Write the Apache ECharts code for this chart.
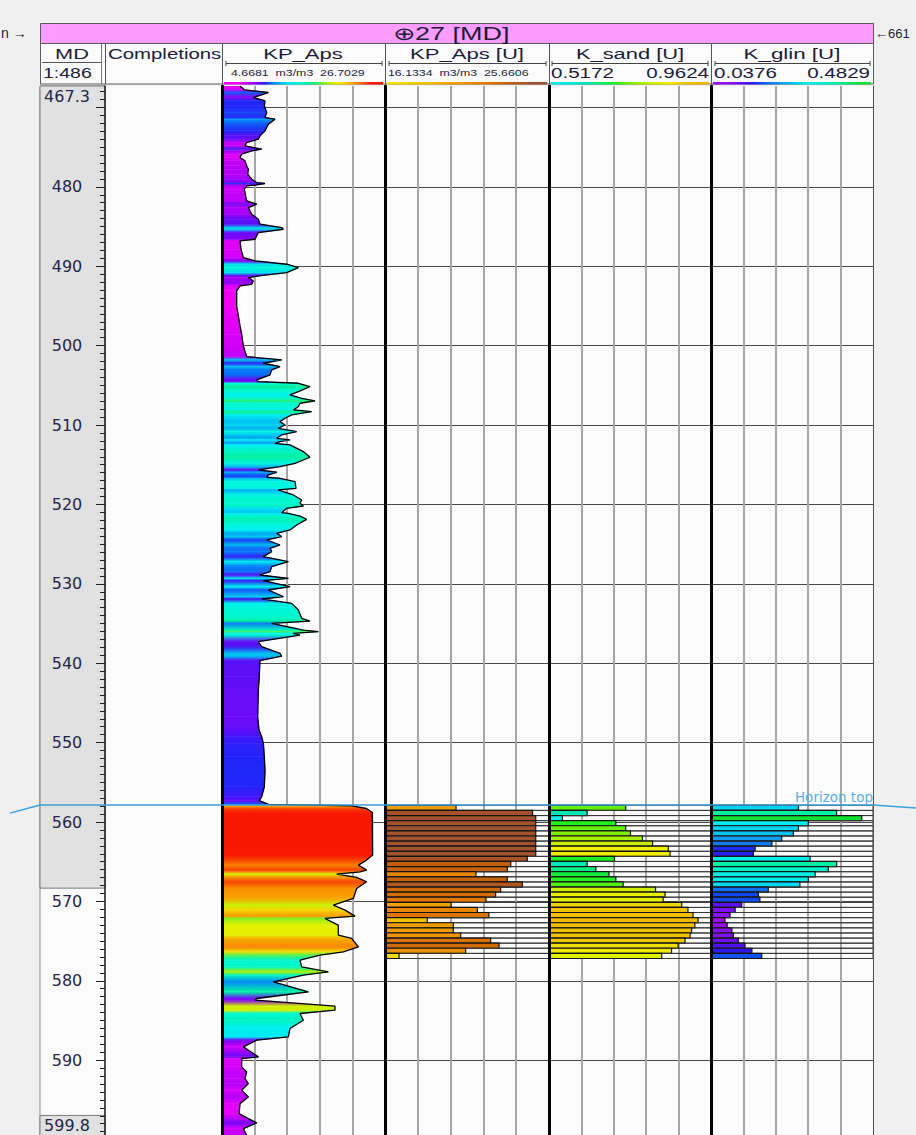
<!DOCTYPE html>
<html>
<head>
<meta charset="utf-8">
<title>Well 27 – KP_Aps log panel</title>
<script src="https://cdn.jsdelivr.net/npm/echarts@6/dist/echarts.min.js"></script>
<style>
  html, body { margin: 0; padding: 0; background: #f0f0f0; }
  #chart { width: 916px; height: 1135px; }
</style>
</head>
<body>
<div id="chart"></div>
<script>
// ---------------- data ----------------
const depthTop = 467.3;
const depthBottom = 599.8;
const depthLabels = [467.3, 480, 490, 500, 510, 520, 530, 540, 550, 560, 570, 580, 590, 599.8];
const viewWindow = [568.33, 596.96];           // depth window shown unshaded in the MD track

const kpRange = [4.6681, 26.7029];
const kpuRange = [16.1334, 25.6606];
const sandRange = [0.5172, 0.9624];
const glinRange = [0.0376, 0.4829];

// KP_Aps continuous curve: [depth, value]
const kpApsCurve = [
  [467.30, 7.10], [467.78, 7.69], [468.12, 10.93], [468.75, 8.90], [469.17, 10.48], [469.80, 10.39],
  [470.64, 10.71], [471.27, 10.48], [471.48, 11.83], [472.10, 10.93], [472.95, 10.48], [473.58, 9.81],
  [474.00, 9.58], [474.42, 8.00], [474.84, 7.78], [475.26, 10.03], [475.47, 8.68], [475.89, 7.33],
  [476.31, 7.10], [476.73, 7.78], [477.36, 8.00], [477.78, 8.23], [478.41, 8.14], [479.04, 8.68],
  [479.46, 9.35], [479.58, 10.48], [479.75, 9.35], [479.88, 8.00], [480.30, 7.69], [480.72, 7.78],
  [481.77, 8.00], [482.19, 9.35], [482.61, 8.23], [483.45, 8.68], [484.08, 9.58], [484.71, 9.81],
  [485.13, 12.73], [485.34, 12.96], [485.76, 9.58], [486.60, 9.13], [486.81, 7.10], [487.86, 7.24],
  [488.91, 7.55], [489.33, 9.13], [489.75, 13.41], [490.17, 14.99], [490.80, 13.41], [491.22, 9.58],
  [491.43, 8.23], [491.85, 8.90], [492.27, 8.68], [492.48, 7.10], [493.10, 6.65], [495.00, 6.65],
  [496.26, 6.88], [497.52, 7.10], [498.57, 7.33], [500.04, 7.55], [501.38, 8.00], [501.80, 12.73],
  [502.22, 10.26], [502.64, 12.51], [503.06, 11.38], [503.69, 11.16], [504.32, 9.35], [504.53, 9.58],
  [504.74, 14.99], [505.16, 16.56], [505.79, 14.99], [506.21, 13.86], [506.63, 15.44], [506.97, 17.24],
  [507.26, 15.21], [507.68, 14.99], [508.10, 14.31], [508.31, 16.79], [508.73, 14.09], [509.15, 13.18],
  [509.57, 12.51], [509.99, 13.18], [510.41, 12.28], [510.83, 14.76], [511.25, 12.73], [511.67, 12.06],
  [511.88, 13.86], [512.09, 12.51], [512.30, 11.83], [512.51, 13.86], [513.35, 15.66], [514.06, 16.56],
  [514.82, 14.54], [515.24, 12.51], [515.66, 9.58], [515.95, 12.06], [516.29, 10.93], [516.58, 10.71],
  [516.71, 12.51], [517.13, 14.54], [517.97, 14.67], [518.18, 12.28], [518.81, 14.31], [519.44, 15.44],
  [519.86, 15.21], [520.20, 15.66], [520.49, 13.41], [521.04, 12.73], [521.12, 13.64], [521.46, 15.21],
  [521.88, 16.11], [522.59, 14.76], [523.22, 13.86], [523.64, 12.06], [524.06, 12.73], [524.48, 10.71],
  [525.11, 12.51], [525.53, 11.16], [525.95, 11.38], [526.58, 10.26], [527.21, 13.64], [527.84, 11.38],
  [528.47, 11.16], [528.89, 9.80], [529.31, 13.64], [529.60, 10.26], [530.36, 13.86], [530.78, 10.93],
  [531.62, 12.96], [531.91, 10.03], [532.46, 14.09], [533.30, 14.99], [534.35, 15.44], [534.69, 16.56],
  [534.98, 11.38], [535.82, 15.66], [536.03, 17.69], [536.24, 14.31], [536.45, 15.21], [537.29, 9.58],
  [537.92, 10.03], [538.76, 12.51], [539.10, 12.73], [539.68, 9.80], [541.70, 9.71], [543.38, 9.58],
  [546.74, 9.49], [548.42, 9.67], [549.26, 10.03], [550.10, 10.26], [551.78, 10.39], [553.46, 10.48],
  [555.56, 10.39], [556.82, 10.03], [557.30, 9.70], [557.78, 10.93], [557.95, 22.00], [558.30, 24.20],
  [558.80, 25.00], [564.17, 25.03], [564.80, 24.22], [565.43, 23.10], [566.06, 24.22], [566.27, 23.32],
  [566.56, 20.17], [566.98, 22.87], [567.53, 24.22], [568.37, 22.87], [569.63, 22.42], [570.47, 19.72],
  [571.10, 21.30], [571.86, 22.65], [572.15, 18.59], [572.99, 20.39], [574.25, 20.39], [574.67, 22.20],
  [575.72, 23.10], [576.35, 21.07], [576.77, 17.92], [577.40, 15.21], [578.24, 15.44], [578.87, 19.04],
  [579.29, 15.66], [580.13, 11.61], [581.39, 16.34], [582.23, 9.35], [582.44, 9.13], [583.20, 19.94],
  [583.70, 19.94], [584.12, 15.21], [584.96, 15.66], [586.01, 13.86], [587.06, 13.64], [587.48, 9.35],
  [588.32, 7.55], [589.58, 9.58], [589.79, 7.33], [590.84, 7.33], [591.48, 8.00], [592.32, 7.78],
  [592.95, 8.23], [593.79, 7.33], [594.63, 8.23], [595.47, 7.10], [596.73, 6.97], [597.36, 8.23],
  [597.90, 9.35], [598.62, 7.55], [599.46, 8.00], [599.80, 7.78]
];

// upscaled zone boundaries (31 boundaries, 30 cells)
const zoneBounds = [
  557.90, 558.54, 559.19, 559.83, 560.47, 561.12, 561.76, 562.40, 563.04, 563.69, 564.33,
  564.97, 565.62, 566.26, 566.90, 567.55, 568.19, 568.83, 569.47, 570.12, 570.76,
  571.40, 572.05, 572.69, 573.33, 573.98, 574.62, 575.26, 575.90, 576.55, 577.19
];
const kpuValue = [20.26, 24.71, 24.89, 24.89, 24.89, 24.89, 24.89, 24.89, 24.89, 24.89,
  24.40, 23.44, 23.24, 21.42, 23.24, 24.11, 22.85, 22.56, 22.00, 19.97,
  21.50, 22.17, 18.59, 20.10, 20.10, 20.53, 22.27, 22.76, 20.82, 16.95];
const sandValue = [0.728, 0.622, 0.554, 0.701, 0.728, 0.741, 0.774, 0.802, 0.845, 0.850,
  0.697, 0.622, 0.646, 0.682, 0.701, 0.721, 0.810, 0.836, 0.831, 0.882,
  0.899, 0.913, 0.927, 0.918, 0.909, 0.905, 0.891, 0.872, 0.854, 0.827];
const glinValue = [0.278, 0.383, 0.452, 0.305, 0.278, 0.264, 0.232, 0.205, 0.159, 0.154,
  0.310, 0.383, 0.360, 0.324, 0.305, 0.282, 0.195, 0.168, 0.172, 0.122,
  0.104, 0.090, 0.076, 0.082, 0.095, 0.099, 0.113, 0.131, 0.150, 0.177];

// horizon pick: depth at left neighbour, this well (left/right edge), right neighbour
const horizonName = 'Horizon top';
const horizonTrace = [558.88, 557.87, 557.87, 558.25];

// ---------------- colour ramps ----------------
const kpStops = [[6.5,'#f000f0'],[7.0,'#e600f8'],[8.0,'#c000f8'],[9.0,'#8c00f8'],[9.8,'#5810f8'],
  [10.4,'#2222f8'],[11.0,'#1060f8'],[11.8,'#0098f8'],[12.8,'#00c8f0'],[13.8,'#00eef0'],[15.0,'#00f8d8'],
  [16.5,'#00f0a0'],[17.5,'#30f070'],[19.0,'#a8f000'],[20.5,'#e8f000'],[21.5,'#f8d000'],[22.5,'#f8a000'],
  [23.5,'#f87000'],[24.3,'#f84000'],[25.0,'#f81800']];
const kpuStops = [[16.5,'#f0e400'],[18.5,'#f2c400'],[20,'#f0a000'],[21.5,'#e88400'],[22.5,'#d86e00'],
  [23.5,'#c05e10'],[24.5,'#a8522a'],[25,'#a0522d']];
const sandStops = [[0.55,'#00f0f0'],[0.62,'#00e8b8'],[0.68,'#10f040'],[0.70,'#20f020'],[0.74,'#80f000'],
  [0.80,'#c8f000'],[0.845,'#f0f000'],[0.87,'#f0e000'],[0.89,'#f0c800'],[0.93,'#f0b800']];
const glinStops = [[0.076,'#9a10f0'],[0.10,'#8010f0'],[0.12,'#6010f0'],[0.15,'#3018f0'],[0.165,'#1040f0'],
  [0.195,'#1070f0'],[0.235,'#10a0f0'],[0.265,'#00c4f0'],[0.30,'#00ecf0'],[0.33,'#00f0e0'],[0.36,'#00f0c8'],
  [0.385,'#00f0a0'],[0.45,'#10e030']];

function hexRgb(h) { return [parseInt(h.substr(1,2),16), parseInt(h.substr(3,2),16), parseInt(h.substr(5,2),16)]; }
function rampColor(stops, v) {
  if (v <= stops[0][0]) return stops[0][1];
  for (let i = 1; i < stops.length; i++) {
    if (v <= stops[i][0]) {
      const t = (v - stops[i-1][0]) / (stops[i][0] - stops[i-1][0]);
      const a = hexRgb(stops[i-1][1]), b = hexRgb(stops[i][1]);
      return 'rgb(' + a.map((c, k) => Math.round(c + (b[k] - c) * t)).join(',') + ')';
    }
  }
  return stops[stops.length - 1][1];
}
function rampGradient(stops, range) {
  const cs = stops.map(s => ({ offset: Math.min(1, Math.max(0, (s[0] - range[0]) / (range[1] - range[0]))), color: s[1] }));
  return new echarts.graphic.LinearGradient(0, 0, 1, 0, cs);
}

// ---------------- layout ----------------
const PLOT_TOP = 86, PLOT_H = 1052, W = 916;
const T = { depth: [40, 65], comp: [105, 117], kp: [222, 163], kpu: [385, 164], sand: [549, 162], glin: [711, 162] };
const metre = []; for (let d = 468; d <= 599; d++) metre.push(d);
const tenMetre = []; for (let d = 470; d <= 590; d += 10) tenMetre.push(d);
const fiveDiv = r => [1, 2, 3, 4].map(i => r[0] + (r[1] - r[0]) * i / 5);

function gridAt(t, bg) {
  return { left: t[0], top: PLOT_TOP, width: t[1], height: PLOT_H, show: true, backgroundColor: bg || '#fbfbfb',
           borderWidth: 0, outerBoundsMode: 'none', containLabel: false };
}
function depthY(grid, extra) {
  return Object.assign({ type: 'value', gridIndex: grid, min: depthTop, max: depthBottom, inverse: true }, extra);
}
function trackX(grid, r) {
  return { type: 'value', gridIndex: grid, min: r[0], max: r[1], position: 'top',
    axisLine: { show: false, onZero: false }, axisTick: { show: false, customValues: fiveDiv(r) },
    axisLabel: { show: false }, splitLine: { show: true, lineStyle: { color: '#a6a6a6', width: 2 } } };
}
const hiddenX = g => ({ type: 'value', gridIndex: g, min: 0, max: 1, show: false });
const gridY = g => depthY(g, { axisLine: { show: false, onZero: false }, axisTick: { show: false, customValues: tenMetre },
  axisLabel: { show: false }, splitLine: { show: true, lineStyle: { color: '#4a4a4a', width: 1 } } });
const borderY = (g, pos, color, width) => depthY(g, { position: pos, z: 10,
  axisLine: { show: true, onZero: false, lineStyle: { color: color, width: width } },
  axisTick: { show: false }, axisLabel: { show: false }, splitLine: { show: false } });

// ---------------- series builders ----------------
const kpSegments = kpApsCurve.slice(0, -1).map((p, i) => [p[1], p[0], kpApsCurve[i + 1][1], kpApsCurve[i + 1][0]]);

function kpFill(params, api) {
  const v0 = api.value(0), d0 = api.value(1), v1 = api.value(2), d1 = api.value(3);
  const a = api.coord([kpRange[0], d0]), b = api.coord([v0, d0]);
  const c = api.coord([v1, d1]), d = api.coord([kpRange[0], d1]);
  const g = new echarts.graphic.LinearGradient(0, 0, 0, 1,
    [{ offset: 0, color: rampColor(kpStops, v0) }, { offset: 1, color: rampColor(kpStops, v1) }]);
  return { type: 'polygon', shape: { points: [a, b, c, d] }, style: { fill: g, stroke: g, lineWidth: 0.6 } };
}

function blockRenderer(range, stops) {
  return function (params, api) {
    const top = api.value(0), bot = api.value(1), v = api.value(2);
    const a = api.coord([range[0], top]);
    const b = api.coord([range[1], bot]);
    const c = api.coord([v, bot]);
    return { type: 'group', children: [
      { type: 'rect', shape: { x: a[0], y: a[1], width: b[0] - a[0], height: b[1] - a[1] },
        style: { fill: 'none', stroke: '#3a3a3a', lineWidth: 1 } },
      { type: 'rect', shape: { x: a[0] + 1, y: a[1], width: c[0] - a[0] - 1, height: c[1] - a[1] },
        style: { fill: rampColor(stops, v), stroke: '#141414', lineWidth: 1.2 } }
    ] };
  };
}
const blockData = vals => vals.map((v, i) => [zoneBounds[i], zoneBounds[i + 1], v]);

const shadeData = [[depthTop, viewWindow[0]], [viewWindow[1], depthBottom]];
function shadeRender(params, api) {
  const a = api.coord([0, api.value(0)]), b = api.coord([1, api.value(1)]);
  return { type: 'rect', shape: { x: a[0], y: a[1], width: b[0] - a[0], height: b[1] - a[1] },
           style: { fill: '#e1e1e1', stroke: '#7c7c7c', lineWidth: 1 } };
}

const horizonX = [10 / W, 40 / W, 873 / W, 1];
const horizonData = horizonTrace.map((d, i) => {
  const item = { value: [horizonX[i], d] };
  if (i === 2) {
    item.label = { show: true, formatter: horizonName, position: 'top', align: 'right', distance: 1,
                   color: '#5aaee2', fontSize: 13.5, fontFamily: 'DejaVu Sans' };
  }
  return item;
});

// ---------------- header graphics ----------------
const INK = '#1c1c3a';
function txt(text, x, y, size, sx, align, extra) {
  return Object.assign({ type: 'text', x: x, y: y, scaleX: sx, silent: true, z: 100,
    style: { text: text, x: 0, y: 0, fill: INK, fontSize: size, fontFamily: 'Liberation Sans',
             align: align, verticalAlign: 'middle', textAlign: align, textVerticalAlign: 'middle' } }, extra || {});
}
function hline(x1, x2, y, color, w) {
  return { type: 'line', silent: true, z: 99, shape: { x1: x1, y1: y, x2: x2, y2: y }, style: { stroke: color || '#555', lineWidth: w || 1 } };
}
function vline(x, y1, y2, color, w) {
  return { type: 'line', silent: true, z: 99, shape: { x1: x, y1: y1, x2: x, y2: y2 }, style: { stroke: color || '#555', lineWidth: w || 1 } };
}
function scaleBar(x1, x2) {
  return [hline(x1, x2, 63.5, '#444'), vline(x1, 61, 66, '#444'), vline(x2, 61, 66, '#444')];
}
function colourBar(t, stops, range) {
  return { type: 'rect', silent: true, z: 99, shape: { x: t[0] + 2, y: 82, width: t[1] - 4, height: 2.5 },
           style: { fill: rampGradient(stops, range) } };
}

const header = [].concat(
  [
    { type: 'rect', silent: true, z: 98, shape: { x: 40.5, y: 23.5, width: 833, height: 20 }, style: { fill: '#ff9cff', stroke: '#5a5a5a', lineWidth: 1 } },
    { type: 'rect', silent: true, z: 98, shape: { x: 40.5, y: 43.5, width: 833, height: 40.5 }, style: { fill: '#fbfbfb', stroke: '#5a5a5a', lineWidth: 1 } },
    vline(105.5, 44, 84), vline(222.5, 44, 84), vline(385.5, 44, 84), vline(549.5, 44, 84), vline(711.5, 44, 84),
    hline(42, 102, 62.5, '#555'), vline(101.5, 44, 84, '#777'),
    txt('\u229527 [MD]', 451, 34, 18, 1.5, 'center'),
    txt('n \u2192', 1, 33, 14, 1.0, 'left'),
    txt('\u2190661', 875, 33, 13, 1.0, 'left'),
    txt('MD', 72, 53.5, 15, 1.45, 'center'),
    txt('1:486', 43, 72.5, 15, 1.3, 'left'),
    txt('Completions', 108, 53.5, 15, 1.36, 'left'),
    txt('KP_Aps', 303, 53.5, 15, 1.47, 'center'),
    txt('KP_Aps [U]', 467, 53.5, 15, 1.47, 'center'),
    txt('K_sand [U]', 630, 53.5, 15, 1.46, 'center'),
    txt('K_glin [U]', 792, 53.5, 15, 1.49, 'center'),
    txt(kpRange[0] + '  m3/m3  ' + kpRange[1], 231, 72.5, 9.5, 1.3, 'left'),
    txt(kpuRange[0] + '  m3/m3  ' + kpuRange[1], 388, 72.5, 9.5, 1.3, 'left'),
    txt(String(sandRange[0]), 551, 72.5, 15, 1.37, 'left'),
    txt(String(sandRange[1]), 709, 72.5, 15, 1.37, 'right'),
    txt(String(glinRange[0]), 714, 72.5, 15, 1.37, 'left'),
    txt(String(glinRange[1]), 870, 72.5, 15, 1.37, 'right'),
    colourBar(T.kp, kpStops, kpRange),
    colourBar(T.kpu, kpuStops, kpuRange),
    colourBar(T.sand, sandStops, sandRange),
    colourBar(T.glin, glinStops, glinRange)
  ],
  scaleBar(226, 382), scaleBar(389, 546), scaleBar(552, 708), scaleBar(715, 870)
);

// ---------------- option ----------------
const option = {
  animation: false,
  backgroundColor: '#f0f0f0',
  grid: [
    Object.assign(gridAt(T.depth, '#fbfbfb'), { borderWidth: 1, borderColor: '#8c8c8c' }),
    gridAt(T.comp),
    gridAt(T.kp),
    gridAt(T.kpu),
    gridAt(T.sand),
    gridAt(T.glin),
    { left: 0, top: PLOT_TOP, width: W, height: PLOT_H, show: false, outerBoundsMode: 'none', containLabel: false }
  ],
  xAxis: [
    hiddenX(0), hiddenX(1),
    trackX(2, kpRange), trackX(3, kpuRange), trackX(4, sandRange), trackX(5, glinRange),
    hiddenX(6)
  ],
  yAxis: [
    depthY(0, { position: 'right', z: 10,
      axisLine: { show: true, onZero: false, lineStyle: { color: '#1e1e1e', width: 1.5 } },
      axisTick: { show: true, inside: true, length: 5, customValues: metre, lineStyle: { color: '#1e1e1e', width: 1 } },
      axisLabel: { show: true, inside: true, customValues: depthLabels, margin: 38, align: 'center',
        fontFamily: 'DejaVu Sans', fontSize: 16, color: '#25254a',
        formatter: v => v === depthTop ? '{a|' + v + '}' : (v === depthBottom ? '{b|' + v + '}' : String(v)),
        rich: {
          a: { padding: [20, 0, 0, 0], fontFamily: 'DejaVu Sans', fontSize: 16, color: '#25254a' },
          b: { padding: [0, 0, 26, 0], fontFamily: 'DejaVu Sans', fontSize: 16, color: '#25254a' }
        } },
      splitLine: { show: false } }),
    depthY(0, { position: 'right', z: 10, axisLine: { show: false, onZero: false },
      axisTick: { show: true, inside: true, length: 9, customValues: tenMetre, lineStyle: { color: '#1e1e1e', width: 1 } },
      axisLabel: { show: false }, splitLine: { show: false } }),
    depthY(1, { show: false }),
    gridY(2), gridY(3), gridY(4), gridY(5),
    borderY(2, 'left', '#000', 3), borderY(3, 'left', '#000', 3), borderY(4, 'left', '#000', 3), borderY(5, 'left', '#000', 3),
    borderY(5, 'right', '#505050', 1),
    depthY(6, { show: false })
  ],
  graphic: { elements: header },
  series: [
    { name: 'MD window', type: 'custom', xAxisIndex: 0, yAxisIndex: 0, data: shadeData, renderItem: shadeRender, silent: true, z: 1 },
    { name: 'KP_Aps fill', type: 'custom', xAxisIndex: 2, yAxisIndex: 3, data: kpSegments, renderItem: kpFill, clip: true, silent: true, z: 2 },
    { name: 'KP_Aps', type: 'line', xAxisIndex: 2, yAxisIndex: 3, data: kpApsCurve.map(p => [p[1], p[0]]),
      showSymbol: false, clip: true, silent: true, z: 4, lineStyle: { color: '#000', width: 1.3 } },
    { name: 'KP_Aps [U]', type: 'custom', xAxisIndex: 3, yAxisIndex: 4, data: blockData(kpuValue), renderItem: blockRenderer(kpuRange, kpuStops), silent: true, z: 3 },
    { name: 'K_sand [U]', type: 'custom', xAxisIndex: 4, yAxisIndex: 5, data: blockData(sandValue), renderItem: blockRenderer(sandRange, sandStops), silent: true, z: 3 },
    { name: 'K_glin [U]', type: 'custom', xAxisIndex: 5, yAxisIndex: 6, data: blockData(glinValue), renderItem: blockRenderer(glinRange, glinStops), silent: true, z: 3 },
    { name: horizonName, type: 'line', xAxisIndex: 6, yAxisIndex: 12, data: horizonData, clip: false, silent: true, z: 20,
      symbol: 'circle', symbolSize: 0, showSymbol: true, lineStyle: { color: '#3aa0dc', width: 1.5 } }
  ]
};

const chart = echarts.init(document.getElementById('chart'), null, { renderer: 'svg' });
chart.setOption(option);
</script>
</body>
</html>
